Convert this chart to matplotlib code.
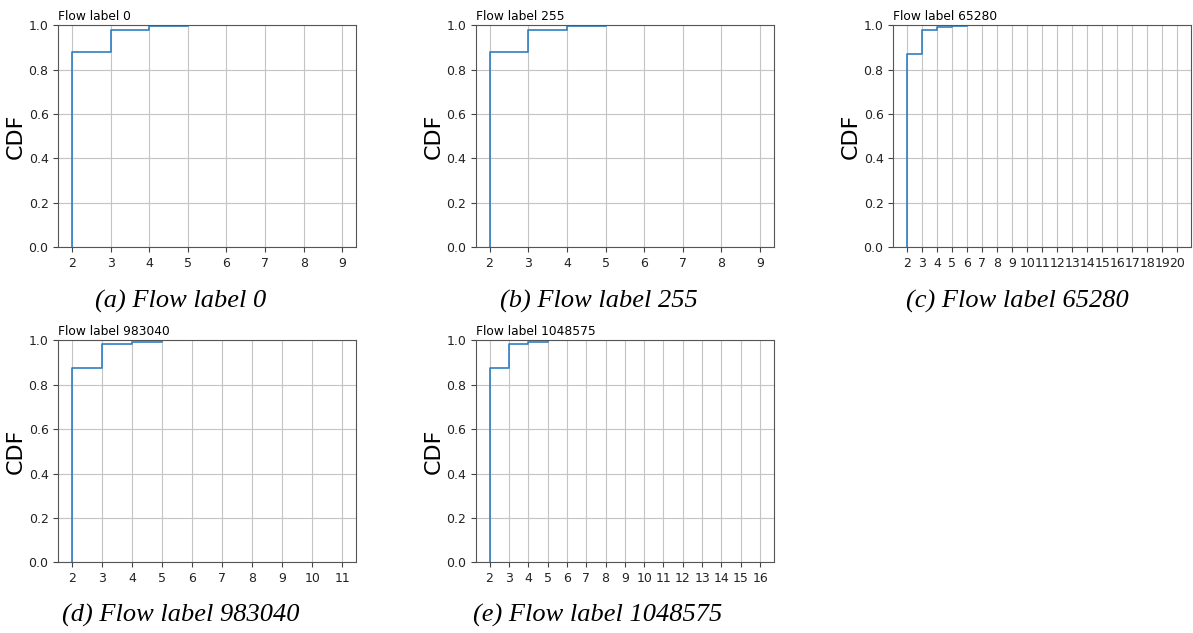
import numpy as np
import matplotlib
matplotlib.use("Agg")
import matplotlib.pyplot as plt

# flow label panels
panel_titles = ["Flow label 0", "Flow label 255", "Flow label 65280",
                "Flow label 983040", "Flow label 1048575"]
panel_letters = ["a", "b", "c", "d", "e"]

# CDF values (x starts at 2)
cdf_a = [0.0, 0.877, 0.980, 0.9955, 1.0]
cdf_b = [0.0, 0.880, 0.980, 0.9955, 1.0]
cdf_c = [0.0, 0.869, 0.980, 0.9925, 0.998, 1.0]
cdf_d = [0.0, 0.877, 0.982, 0.9937, 1.0]
cdf_e = [0.0, 0.874, 0.983, 0.992, 1.0]
cdfs = [cdf_a, cdf_b, cdf_c, cdf_d, cdf_e]

# largest x tick of each panel
x_max = [9, 9, 20, 11, 16]

fig = plt.figure(figsize=(11.93, 6.33), dpi=100)

lefts = [0.0489, 0.399, 0.7488, 0.0489, 0.399]
bottoms = [0.6098, 0.6098, 0.6098, 0.1117, 0.1117]
cap_x = [181, 599, 1017, 181, 598]
cap_y = [308, 308, 308, 622, 622]

for k in range(5):
    ax = fig.add_axes([lefts[k], bottoms[k], 0.2495, 0.3505])
    y = cdfs[k]
    x = [2] + list(range(2, 2 + len(y) - 1))
    ax.step(x, y, where="post", color="#2f7fc1", lw=1.2)

    lo, hi = 2, x_max[k]
    m = 0.05 * (hi - lo)
    ax.set_xlim(lo - m, hi + m)
    ax.set_ylim(0, 1.0)
    ax.set_xticks(np.arange(lo, hi + 1))
    ax.set_yticks([0.0, 0.2, 0.4, 0.6, 0.8, 1.0])
    ax.tick_params(labelsize=9, labelcolor="#222222", color="#444444")
    ax.grid(True, color="#c4c4c4", lw=0.8)
    ax.set_axisbelow(True)
    for s in ax.spines.values():
        s.set_color("#555555")

    ax.set_title(panel_titles[k], loc="left", fontsize=8.8, pad=4)
    ax.set_ylabel("CDF", fontsize=16)
    ax.yaxis.set_label_coords(-0.11, 0.5)

    fig.text(cap_x[k] / 1193, 1 - cap_y[k] / 633,
             "(%s) %s" % (panel_letters[k], panel_titles[k]),
             ha="center", va="baseline", fontsize=19,
             family="Liberation Serif", style="italic")

fig.savefig("out.png", dpi=100)
